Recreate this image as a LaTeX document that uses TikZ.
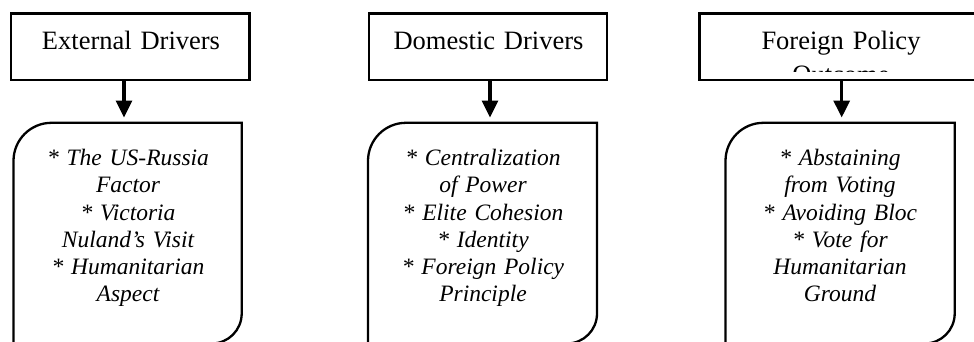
\documentclass[tikz,border=0pt]{standalone}
\usepackage{fontspec}
\setmainfont{Liberation Serif}
\usetikzlibrary{arrows.meta}
\begin{document}
\begin{tikzpicture}[x=1pt,y=1pt,
  hdr/.style={draw,line width=2.3pt,rectangle,inner sep=0pt,minimum height=66.5pt},
  hdrtxt/.style={inner sep=0pt,anchor=base,text width=230pt,align=center,font=\fontsize{26.5}{33.7}\selectfont},
  bodytxt/.style={inner sep=0pt,anchor=base,text width=225pt,align=center,font=\fontsize{23.5}{27.2}\selectfont\itshape},
  rbox/.style={line width=2.3pt},
  arr/.style={line width=3.3pt,-{Triangle[length=17pt,width=16pt]}}]
\useasboundingbox (0,0) rectangle (974,-341);

% header boxes
\node[hdr,minimum width=238.3pt] (h1) at (130.35,-46.75) {};
\node[hdr,minimum width=238.5pt] (h2) at (487.95,-46.75) {};
\node[hdr,minimum width=300.5pt] (h3) at (849.75,-46.75) {};

% header texts
\node[hdrtxt] (t1) at (131,-49.3) {External Drivers};
\node[hdrtxt] (t2) at (488.5,-49.3) {Domestic Drivers};
\begin{scope}
  \clip (700,-14) rectangle (974,-71.5);
  \node[hdrtxt] (t3) at (841,-49.3) {Foreign Policy\\Outcome};
\end{scope}

% rounded content boxes
\draw[rbox] (13.5,-343.5) -- (13.5,-160.8) arc[start angle=180,end angle=90,radius=38] -- (241.7,-122.8) -- (241.7,-313.5) arc[start angle=0,end angle=-90,radius=30] -- cycle;
\draw[rbox] (368,-343.5) -- (368,-160.8) arc[start angle=180,end angle=90,radius=38] -- (597,-122.8) -- (597,-313.5) arc[start angle=0,end angle=-90,radius=30] -- cycle;
\draw[rbox] (725.5,-343.5) -- (725.5,-160.8) arc[start angle=180,end angle=90,radius=38] -- (954.7,-122.8) -- (954.7,-313.5) arc[start angle=0,end angle=-90,radius=30] -- cycle;

% body texts
\node[bodytxt] (b1) at (128,-165.7) {* The US-Russia\\Factor\\\relax* Victoria\\Nuland’s Visit\\\relax* Humanitarian\\Aspect};
\node[bodytxt] (b2) at (483,-165.7) {* Centralization\\of Power\\\relax* Elite Cohesion\\\relax* Identity\\\relax* Foreign Policy\\Principle};
\node[bodytxt] (b3) at (840,-165.7) {* Abstaining\\from Voting\\\relax* Avoiding Bloc\\\relax* Vote for\\Humanitarian\\Ground};

% arrows
\coordinate (e1) at (124,-117.5);
\coordinate (e2) at (490,-117.5);
\coordinate (e3) at (841.7,-117.5);
\draw[arr] (h1.south -| e1) -- (e1);
\draw[arr] (h2.south -| e2) -- (e2);
\draw[arr] (h3.south -| e3) -- (e3);
\end{tikzpicture}
\end{document}
